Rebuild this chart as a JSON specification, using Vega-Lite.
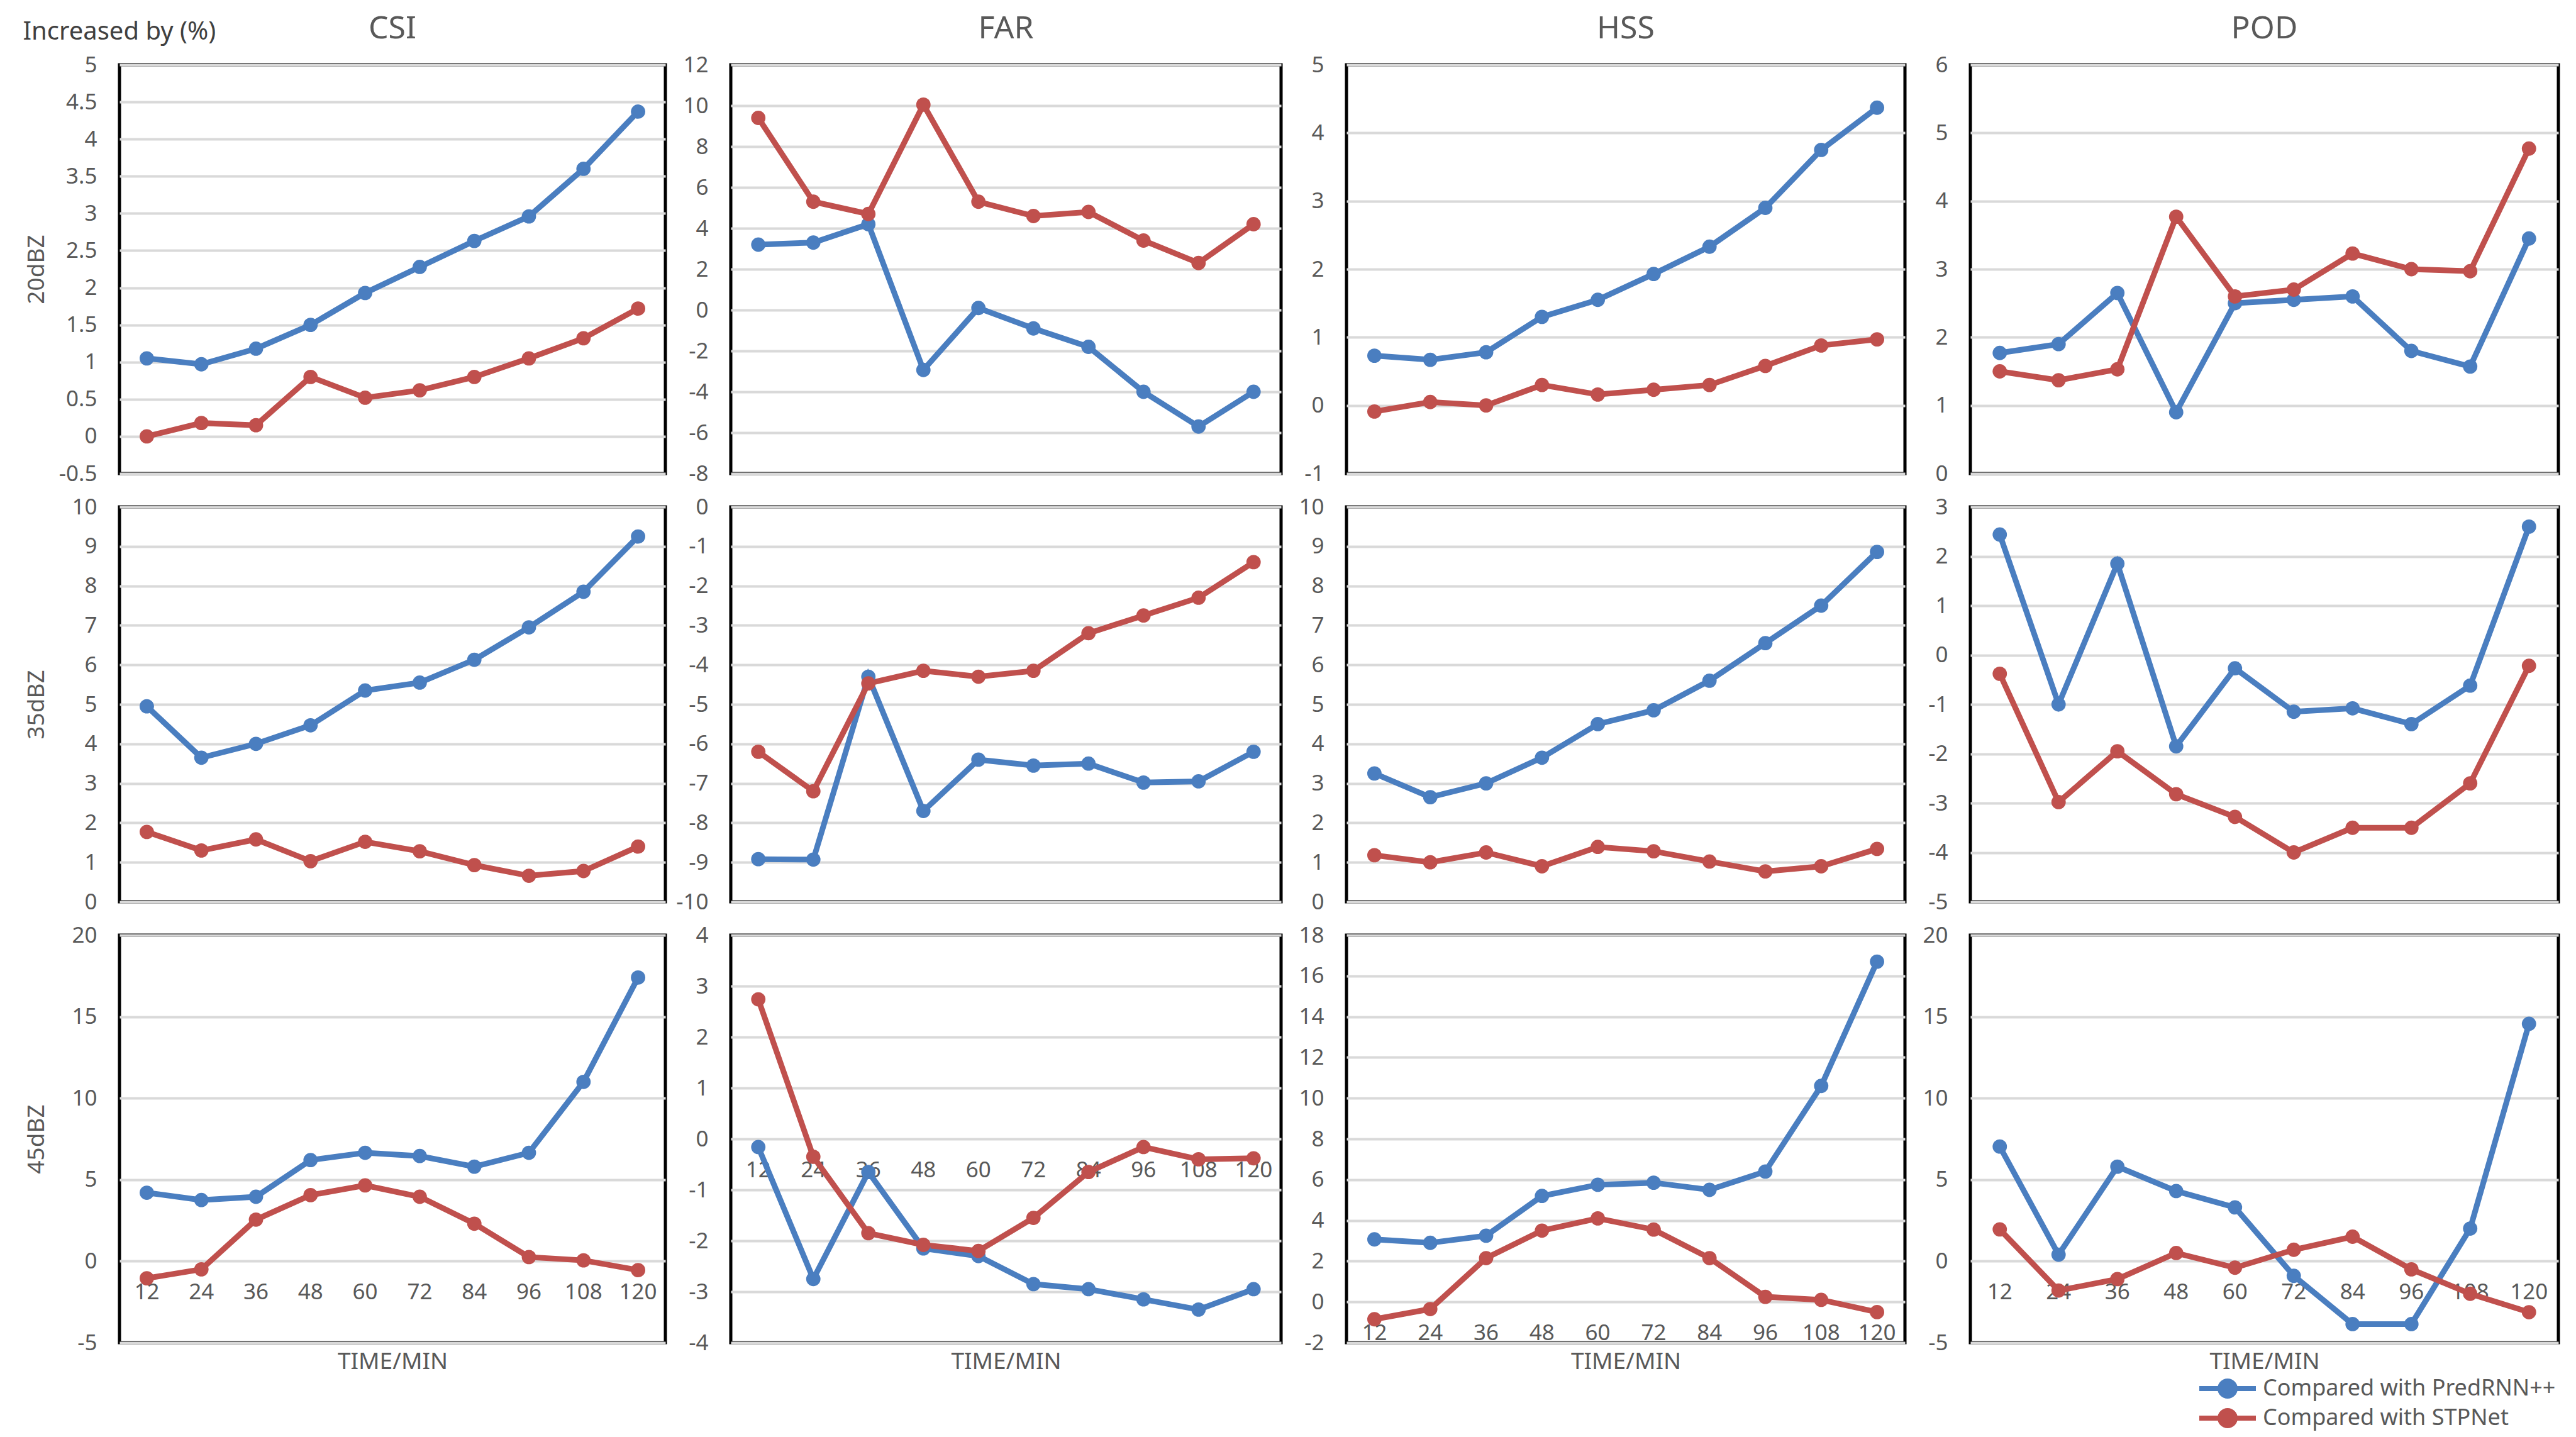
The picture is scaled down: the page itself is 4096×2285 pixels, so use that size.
{
  "$schema": "https://vega.github.io/schema/vega-lite/v6.json",
  "background": "white",
  "padding": {"left": 36, "top": 18, "right": 5, "bottom": 5},
  "title": {"text": "Increased by (%)", "anchor": "start", "frame": "bounds", "offset": -52, "fontSize": 40, "fontWeight": "normal", "color": "#404040", "font": "Noto Sans"},
  "datasets": {
    "d": [
      {"m":"CSI","d":20,"s":"PredRNN++","t":12,"v":1.05},{"m":"CSI","d":20,"s":"PredRNN++","t":24,"v":0.97},{"m":"CSI","d":20,"s":"PredRNN++","t":36,"v":1.18},{"m":"CSI","d":20,"s":"PredRNN++","t":48,"v":1.5},{"m":"CSI","d":20,"s":"PredRNN++","t":60,"v":1.93},{"m":"CSI","d":20,"s":"PredRNN++","t":72,"v":2.28},{"m":"CSI","d":20,"s":"PredRNN++","t":84,"v":2.63},{"m":"CSI","d":20,"s":"PredRNN++","t":96,"v":2.96},{"m":"CSI","d":20,"s":"PredRNN++","t":108,"v":3.6},{"m":"CSI","d":20,"s":"PredRNN++","t":120,"v":4.37},
      {"m":"CSI","d":20,"s":"STPNet","t":12,"v":0.0},{"m":"CSI","d":20,"s":"STPNet","t":24,"v":0.18},{"m":"CSI","d":20,"s":"STPNet","t":36,"v":0.15},{"m":"CSI","d":20,"s":"STPNet","t":48,"v":0.8},{"m":"CSI","d":20,"s":"STPNet","t":60,"v":0.52},{"m":"CSI","d":20,"s":"STPNet","t":72,"v":0.62},{"m":"CSI","d":20,"s":"STPNet","t":84,"v":0.8},{"m":"CSI","d":20,"s":"STPNet","t":96,"v":1.05},{"m":"CSI","d":20,"s":"STPNet","t":108,"v":1.32},{"m":"CSI","d":20,"s":"STPNet","t":120,"v":1.72},
      {"m":"FAR","d":20,"s":"PredRNN++","t":12,"v":3.2},{"m":"FAR","d":20,"s":"PredRNN++","t":24,"v":3.3},{"m":"FAR","d":20,"s":"PredRNN++","t":36,"v":4.2},{"m":"FAR","d":20,"s":"PredRNN++","t":48,"v":-2.93},{"m":"FAR","d":20,"s":"PredRNN++","t":60,"v":0.1},{"m":"FAR","d":20,"s":"PredRNN++","t":72,"v":-0.9},{"m":"FAR","d":20,"s":"PredRNN++","t":84,"v":-1.8},{"m":"FAR","d":20,"s":"PredRNN++","t":96,"v":-4.0},{"m":"FAR","d":20,"s":"PredRNN++","t":108,"v":-5.7},{"m":"FAR","d":20,"s":"PredRNN++","t":120,"v":-4.0},
      {"m":"FAR","d":20,"s":"STPNet","t":12,"v":9.4},{"m":"FAR","d":20,"s":"STPNet","t":24,"v":5.3},{"m":"FAR","d":20,"s":"STPNet","t":36,"v":4.7},{"m":"FAR","d":20,"s":"STPNet","t":48,"v":10.05},{"m":"FAR","d":20,"s":"STPNet","t":60,"v":5.3},{"m":"FAR","d":20,"s":"STPNet","t":72,"v":4.6},{"m":"FAR","d":20,"s":"STPNet","t":84,"v":4.8},{"m":"FAR","d":20,"s":"STPNet","t":96,"v":3.4},{"m":"FAR","d":20,"s":"STPNet","t":108,"v":2.3},{"m":"FAR","d":20,"s":"STPNet","t":120,"v":4.2},
      {"m":"HSS","d":20,"s":"PredRNN++","t":12,"v":0.73},{"m":"HSS","d":20,"s":"PredRNN++","t":24,"v":0.67},{"m":"HSS","d":20,"s":"PredRNN++","t":36,"v":0.78},{"m":"HSS","d":20,"s":"PredRNN++","t":48,"v":1.3},{"m":"HSS","d":20,"s":"PredRNN++","t":60,"v":1.55},{"m":"HSS","d":20,"s":"PredRNN++","t":72,"v":1.93},{"m":"HSS","d":20,"s":"PredRNN++","t":84,"v":2.33},{"m":"HSS","d":20,"s":"PredRNN++","t":96,"v":2.9},{"m":"HSS","d":20,"s":"PredRNN++","t":108,"v":3.75},{"m":"HSS","d":20,"s":"PredRNN++","t":120,"v":4.37},
      {"m":"HSS","d":20,"s":"STPNet","t":12,"v":-0.09},{"m":"HSS","d":20,"s":"STPNet","t":24,"v":0.05},{"m":"HSS","d":20,"s":"STPNet","t":36,"v":0.0},{"m":"HSS","d":20,"s":"STPNet","t":48,"v":0.3},{"m":"HSS","d":20,"s":"STPNet","t":60,"v":0.16},{"m":"HSS","d":20,"s":"STPNet","t":72,"v":0.23},{"m":"HSS","d":20,"s":"STPNet","t":84,"v":0.3},{"m":"HSS","d":20,"s":"STPNet","t":96,"v":0.58},{"m":"HSS","d":20,"s":"STPNet","t":108,"v":0.88},{"m":"HSS","d":20,"s":"STPNet","t":120,"v":0.97},
      {"m":"POD","d":20,"s":"PredRNN++","t":12,"v":1.77},{"m":"POD","d":20,"s":"PredRNN++","t":24,"v":1.9},{"m":"POD","d":20,"s":"PredRNN++","t":36,"v":2.65},{"m":"POD","d":20,"s":"PredRNN++","t":48,"v":0.9},{"m":"POD","d":20,"s":"PredRNN++","t":60,"v":2.5},{"m":"POD","d":20,"s":"PredRNN++","t":72,"v":2.55},{"m":"POD","d":20,"s":"PredRNN++","t":84,"v":2.6},{"m":"POD","d":20,"s":"PredRNN++","t":96,"v":1.8},{"m":"POD","d":20,"s":"PredRNN++","t":108,"v":1.57},{"m":"POD","d":20,"s":"PredRNN++","t":120,"v":3.45},
      {"m":"POD","d":20,"s":"STPNet","t":12,"v":1.5},{"m":"POD","d":20,"s":"STPNet","t":24,"v":1.37},{"m":"POD","d":20,"s":"STPNet","t":36,"v":1.53},{"m":"POD","d":20,"s":"STPNet","t":48,"v":3.77},{"m":"POD","d":20,"s":"STPNet","t":60,"v":2.6},{"m":"POD","d":20,"s":"STPNet","t":72,"v":2.7},{"m":"POD","d":20,"s":"STPNet","t":84,"v":3.23},{"m":"POD","d":20,"s":"STPNet","t":96,"v":3.0},{"m":"POD","d":20,"s":"STPNet","t":108,"v":2.97},{"m":"POD","d":20,"s":"STPNet","t":120,"v":4.77},
      {"m":"CSI","d":35,"s":"PredRNN++","t":12,"v":4.95},{"m":"CSI","d":35,"s":"PredRNN++","t":24,"v":3.65},{"m":"CSI","d":35,"s":"PredRNN++","t":36,"v":4.0},{"m":"CSI","d":35,"s":"PredRNN++","t":48,"v":4.47},{"m":"CSI","d":35,"s":"PredRNN++","t":60,"v":5.35},{"m":"CSI","d":35,"s":"PredRNN++","t":72,"v":5.55},{"m":"CSI","d":35,"s":"PredRNN++","t":84,"v":6.13},{"m":"CSI","d":35,"s":"PredRNN++","t":96,"v":6.95},{"m":"CSI","d":35,"s":"PredRNN++","t":108,"v":7.85},{"m":"CSI","d":35,"s":"PredRNN++","t":120,"v":9.25},
      {"m":"CSI","d":35,"s":"STPNet","t":12,"v":1.77},{"m":"CSI","d":35,"s":"STPNet","t":24,"v":1.3},{"m":"CSI","d":35,"s":"STPNet","t":36,"v":1.58},{"m":"CSI","d":35,"s":"STPNet","t":48,"v":1.03},{"m":"CSI","d":35,"s":"STPNet","t":60,"v":1.52},{"m":"CSI","d":35,"s":"STPNet","t":72,"v":1.28},{"m":"CSI","d":35,"s":"STPNet","t":84,"v":0.93},{"m":"CSI","d":35,"s":"STPNet","t":96,"v":0.66},{"m":"CSI","d":35,"s":"STPNet","t":108,"v":0.78},{"m":"CSI","d":35,"s":"STPNet","t":120,"v":1.4},
      {"m":"FAR","d":35,"s":"PredRNN++","t":12,"v":-8.92},{"m":"FAR","d":35,"s":"PredRNN++","t":24,"v":-8.93},{"m":"FAR","d":35,"s":"PredRNN++","t":36,"v":-4.3},{"m":"FAR","d":35,"s":"PredRNN++","t":48,"v":-7.7},{"m":"FAR","d":35,"s":"PredRNN++","t":60,"v":-6.4},{"m":"FAR","d":35,"s":"PredRNN++","t":72,"v":-6.55},{"m":"FAR","d":35,"s":"PredRNN++","t":84,"v":-6.5},{"m":"FAR","d":35,"s":"PredRNN++","t":96,"v":-6.98},{"m":"FAR","d":35,"s":"PredRNN++","t":108,"v":-6.95},{"m":"FAR","d":35,"s":"PredRNN++","t":120,"v":-6.2},
      {"m":"FAR","d":35,"s":"STPNet","t":12,"v":-6.2},{"m":"FAR","d":35,"s":"STPNet","t":24,"v":-7.2},{"m":"FAR","d":35,"s":"STPNet","t":36,"v":-4.47},{"m":"FAR","d":35,"s":"STPNet","t":48,"v":-4.15},{"m":"FAR","d":35,"s":"STPNet","t":60,"v":-4.3},{"m":"FAR","d":35,"s":"STPNet","t":72,"v":-4.15},{"m":"FAR","d":35,"s":"STPNet","t":84,"v":-3.2},{"m":"FAR","d":35,"s":"STPNet","t":96,"v":-2.75},{"m":"FAR","d":35,"s":"STPNet","t":108,"v":-2.3},{"m":"FAR","d":35,"s":"STPNet","t":120,"v":-1.4},
      {"m":"HSS","d":35,"s":"PredRNN++","t":12,"v":3.25},{"m":"HSS","d":35,"s":"PredRNN++","t":24,"v":2.65},{"m":"HSS","d":35,"s":"PredRNN++","t":36,"v":3.0},{"m":"HSS","d":35,"s":"PredRNN++","t":48,"v":3.65},{"m":"HSS","d":35,"s":"PredRNN++","t":60,"v":4.5},{"m":"HSS","d":35,"s":"PredRNN++","t":72,"v":4.85},{"m":"HSS","d":35,"s":"PredRNN++","t":84,"v":5.6},{"m":"HSS","d":35,"s":"PredRNN++","t":96,"v":6.55},{"m":"HSS","d":35,"s":"PredRNN++","t":108,"v":7.5},{"m":"HSS","d":35,"s":"PredRNN++","t":120,"v":8.86},
      {"m":"HSS","d":35,"s":"STPNet","t":12,"v":1.18},{"m":"HSS","d":35,"s":"STPNet","t":24,"v":1.0},{"m":"HSS","d":35,"s":"STPNet","t":36,"v":1.25},{"m":"HSS","d":35,"s":"STPNet","t":48,"v":0.9},{"m":"HSS","d":35,"s":"STPNet","t":60,"v":1.39},{"m":"HSS","d":35,"s":"STPNet","t":72,"v":1.28},{"m":"HSS","d":35,"s":"STPNet","t":84,"v":1.02},{"m":"HSS","d":35,"s":"STPNet","t":96,"v":0.77},{"m":"HSS","d":35,"s":"STPNet","t":108,"v":0.9},{"m":"HSS","d":35,"s":"STPNet","t":120,"v":1.34},
      {"m":"POD","d":35,"s":"PredRNN++","t":12,"v":2.44},{"m":"POD","d":35,"s":"PredRNN++","t":24,"v":-1.0},{"m":"POD","d":35,"s":"PredRNN++","t":36,"v":1.85},{"m":"POD","d":35,"s":"PredRNN++","t":48,"v":-1.85},{"m":"POD","d":35,"s":"PredRNN++","t":60,"v":-0.27},{"m":"POD","d":35,"s":"PredRNN++","t":72,"v":-1.15},{"m":"POD","d":35,"s":"PredRNN++","t":84,"v":-1.08},{"m":"POD","d":35,"s":"PredRNN++","t":96,"v":-1.4},{"m":"POD","d":35,"s":"PredRNN++","t":108,"v":-0.62},{"m":"POD","d":35,"s":"PredRNN++","t":120,"v":2.6},
      {"m":"POD","d":35,"s":"STPNet","t":12,"v":-0.38},{"m":"POD","d":35,"s":"STPNet","t":24,"v":-2.98},{"m":"POD","d":35,"s":"STPNet","t":36,"v":-1.95},{"m":"POD","d":35,"s":"STPNet","t":48,"v":-2.82},{"m":"POD","d":35,"s":"STPNet","t":60,"v":-3.28},{"m":"POD","d":35,"s":"STPNet","t":72,"v":-4.0},{"m":"POD","d":35,"s":"STPNet","t":84,"v":-3.5},{"m":"POD","d":35,"s":"STPNet","t":96,"v":-3.5},{"m":"POD","d":35,"s":"STPNet","t":108,"v":-2.6},{"m":"POD","d":35,"s":"STPNet","t":120,"v":-0.22},
      {"m":"CSI","d":45,"s":"PredRNN++","t":12,"v":4.2},{"m":"CSI","d":45,"s":"PredRNN++","t":24,"v":3.75},{"m":"CSI","d":45,"s":"PredRNN++","t":36,"v":3.95},{"m":"CSI","d":45,"s":"PredRNN++","t":48,"v":6.2},{"m":"CSI","d":45,"s":"PredRNN++","t":60,"v":6.65},{"m":"CSI","d":45,"s":"PredRNN++","t":72,"v":6.45},{"m":"CSI","d":45,"s":"PredRNN++","t":84,"v":5.8},{"m":"CSI","d":45,"s":"PredRNN++","t":96,"v":6.65},{"m":"CSI","d":45,"s":"PredRNN++","t":108,"v":11.0},{"m":"CSI","d":45,"s":"PredRNN++","t":120,"v":17.4},
      {"m":"CSI","d":45,"s":"STPNet","t":12,"v":-1.05},{"m":"CSI","d":45,"s":"STPNet","t":24,"v":-0.5},{"m":"CSI","d":45,"s":"STPNet","t":36,"v":2.55},{"m":"CSI","d":45,"s":"STPNet","t":48,"v":4.05},{"m":"CSI","d":45,"s":"STPNet","t":60,"v":4.65},{"m":"CSI","d":45,"s":"STPNet","t":72,"v":3.95},{"m":"CSI","d":45,"s":"STPNet","t":84,"v":2.3},{"m":"CSI","d":45,"s":"STPNet","t":96,"v":0.25},{"m":"CSI","d":45,"s":"STPNet","t":108,"v":0.05},{"m":"CSI","d":45,"s":"STPNet","t":120,"v":-0.55},
      {"m":"FAR","d":45,"s":"PredRNN++","t":12,"v":-0.16},{"m":"FAR","d":45,"s":"PredRNN++","t":24,"v":-2.75},{"m":"FAR","d":45,"s":"PredRNN++","t":36,"v":-0.65},{"m":"FAR","d":45,"s":"PredRNN++","t":48,"v":-2.15},{"m":"FAR","d":45,"s":"PredRNN++","t":60,"v":-2.3},{"m":"FAR","d":45,"s":"PredRNN++","t":72,"v":-2.85},{"m":"FAR","d":45,"s":"PredRNN++","t":84,"v":-2.95},{"m":"FAR","d":45,"s":"PredRNN++","t":96,"v":-3.15},{"m":"FAR","d":45,"s":"PredRNN++","t":108,"v":-3.35},{"m":"FAR","d":45,"s":"PredRNN++","t":120,"v":-2.95},
      {"m":"FAR","d":45,"s":"STPNet","t":12,"v":2.74},{"m":"FAR","d":45,"s":"STPNet","t":24,"v":-0.35},{"m":"FAR","d":45,"s":"STPNet","t":36,"v":-1.85},{"m":"FAR","d":45,"s":"STPNet","t":48,"v":-2.08},{"m":"FAR","d":45,"s":"STPNet","t":60,"v":-2.2},{"m":"FAR","d":45,"s":"STPNet","t":72,"v":-1.55},{"m":"FAR","d":45,"s":"STPNet","t":84,"v":-0.65},{"m":"FAR","d":45,"s":"STPNet","t":96,"v":-0.16},{"m":"FAR","d":45,"s":"STPNet","t":108,"v":-0.4},{"m":"FAR","d":45,"s":"STPNet","t":120,"v":-0.38},
      {"m":"HSS","d":45,"s":"PredRNN++","t":12,"v":3.07},{"m":"HSS","d":45,"s":"PredRNN++","t":24,"v":2.9},{"m":"HSS","d":45,"s":"PredRNN++","t":36,"v":3.25},{"m":"HSS","d":45,"s":"PredRNN++","t":48,"v":5.2},{"m":"HSS","d":45,"s":"PredRNN++","t":60,"v":5.75},{"m":"HSS","d":45,"s":"PredRNN++","t":72,"v":5.85},{"m":"HSS","d":45,"s":"PredRNN++","t":84,"v":5.5},{"m":"HSS","d":45,"s":"PredRNN++","t":96,"v":6.4},{"m":"HSS","d":45,"s":"PredRNN++","t":108,"v":10.6},{"m":"HSS","d":45,"s":"PredRNN++","t":120,"v":16.7},
      {"m":"HSS","d":45,"s":"STPNet","t":12,"v":-0.85},{"m":"HSS","d":45,"s":"STPNet","t":24,"v":-0.35},{"m":"HSS","d":45,"s":"STPNet","t":36,"v":2.15},{"m":"HSS","d":45,"s":"STPNet","t":48,"v":3.5},{"m":"HSS","d":45,"s":"STPNet","t":60,"v":4.1},{"m":"HSS","d":45,"s":"STPNet","t":72,"v":3.55},{"m":"HSS","d":45,"s":"STPNet","t":84,"v":2.15},{"m":"HSS","d":45,"s":"STPNet","t":96,"v":0.25},{"m":"HSS","d":45,"s":"STPNet","t":108,"v":0.1},{"m":"HSS","d":45,"s":"STPNet","t":120,"v":-0.5},
      {"m":"POD","d":45,"s":"PredRNN++","t":12,"v":7.03},{"m":"POD","d":45,"s":"PredRNN++","t":24,"v":0.4},{"m":"POD","d":45,"s":"PredRNN++","t":36,"v":5.8},{"m":"POD","d":45,"s":"PredRNN++","t":48,"v":4.3},{"m":"POD","d":45,"s":"PredRNN++","t":60,"v":3.3},{"m":"POD","d":45,"s":"PredRNN++","t":72,"v":-0.9},{"m":"POD","d":45,"s":"PredRNN++","t":84,"v":-3.86},{"m":"POD","d":45,"s":"PredRNN++","t":96,"v":-3.86},{"m":"POD","d":45,"s":"PredRNN++","t":108,"v":2.0},{"m":"POD","d":45,"s":"PredRNN++","t":120,"v":14.56},
      {"m":"POD","d":45,"s":"STPNet","t":12,"v":1.95},{"m":"POD","d":45,"s":"STPNet","t":24,"v":-1.8},{"m":"POD","d":45,"s":"STPNet","t":36,"v":-1.1},{"m":"POD","d":45,"s":"STPNet","t":48,"v":0.5},{"m":"POD","d":45,"s":"STPNet","t":60,"v":-0.4},{"m":"POD","d":45,"s":"STPNet","t":72,"v":0.7},{"m":"POD","d":45,"s":"STPNet","t":84,"v":1.5},{"m":"POD","d":45,"s":"STPNet","t":96,"v":-0.5},{"m":"POD","d":45,"s":"STPNet","t":108,"v":-2.0},{"m":"POD","d":45,"s":"STPNet","t":120,"v":-3.13}
    ]
  },
  "data": {"name": "d"},
  "columns": 4,
  "spacing": {"row": 53, "column": 104},
  "bounds": "flush",
  "align": "each",
  "concat": [
    {
      "width": 868, "height": 650, "title": "CSI",
      "transform": [{"filter": "datum.m == 'CSI' && datum.d == 20"}],
      "encoding": {
        "x": {"field": "t", "type": "ordinal", "sort": [12,24,36,48,60,72,84,96,108,120], "axis": null},
        "y": {"field": "v", "type": "quantitative", "scale": {"domain": [-0.5, 5], "nice": false, "zero": false}, "axis": {"values": [-0.5,0,0.5,1,1.5,2,2.5,3,3.5,4,4.5,5], "labelExpr": "toString(datum.value)", "title": "20dBZ", "minExtent": 97, "maxExtent": 97, "titlePadding": 16}},
        "color": {"field": "s", "type": "nominal", "scale": {"domain": ["PredRNN++", "STPNet"], "range": ["#4A7EC0", "#C0504D"]}, "title": null, "legend": {"labelExpr": "'Compared with ' + datum.label", "encode": {"symbols": {"update": {"fill": {"scale": "color", "field": "value"}, "stroke": {"scale": "color", "field": "value"}, "opacity": {"value": 1}}}}}}
      },
      "layer": [
        {"mark": {"type": "line", "strokeWidth": 9}},
        {"mark": {"type": "point", "filled": true, "size": 520, "opacity": 1}}
      ]
    },
    {
      "width": 875, "height": 650, "title": "FAR",
      "transform": [{"filter": "datum.m == 'FAR' && datum.d == 20"}],
      "encoding": {
        "x": {"field": "t", "type": "ordinal", "sort": [12,24,36,48,60,72,84,96,108,120], "axis": null},
        "y": {"field": "v", "type": "quantitative", "scale": {"domain": [-8, 12], "nice": false, "zero": false}, "axis": {"values": [-8,-6,-4,-2,0,2,4,6,8,10,12], "labelExpr": "toString(datum.value)", "title": null}},
        "color": {"field": "s", "type": "nominal", "scale": {"domain": ["PredRNN++", "STPNet"], "range": ["#4A7EC0", "#C0504D"]}, "title": null, "legend": {"labelExpr": "'Compared with ' + datum.label", "encode": {"symbols": {"update": {"fill": {"scale": "color", "field": "value"}, "stroke": {"scale": "color", "field": "value"}, "opacity": {"value": 1}}}}}}
      },
      "layer": [
        {"mark": {"type": "line", "strokeWidth": 9}},
        {"mark": {"type": "point", "filled": true, "size": 520, "opacity": 1}}
      ]
    },
    {
      "width": 888, "height": 650, "title": "HSS",
      "transform": [{"filter": "datum.m == 'HSS' && datum.d == 20"}],
      "encoding": {
        "x": {"field": "t", "type": "ordinal", "sort": [12,24,36,48,60,72,84,96,108,120], "axis": null},
        "y": {"field": "v", "type": "quantitative", "scale": {"domain": [-1, 5], "nice": false, "zero": false}, "axis": {"values": [-1,0,1,2,3,4,5], "labelExpr": "toString(datum.value)", "title": null}},
        "color": {"field": "s", "type": "nominal", "scale": {"domain": ["PredRNN++", "STPNet"], "range": ["#4A7EC0", "#C0504D"]}, "title": null, "legend": {"labelExpr": "'Compared with ' + datum.label", "encode": {"symbols": {"update": {"fill": {"scale": "color", "field": "value"}, "stroke": {"scale": "color", "field": "value"}, "opacity": {"value": 1}}}}}}
      },
      "layer": [
        {"mark": {"type": "line", "strokeWidth": 9}},
        {"mark": {"type": "point", "filled": true, "size": 520, "opacity": 1}}
      ]
    },
    {
      "width": 935, "height": 650, "title": "POD",
      "transform": [{"filter": "datum.m == 'POD' && datum.d == 20"}],
      "encoding": {
        "x": {"field": "t", "type": "ordinal", "sort": [12,24,36,48,60,72,84,96,108,120], "axis": null},
        "y": {"field": "v", "type": "quantitative", "scale": {"domain": [0, 6], "nice": false, "zero": false}, "axis": {"values": [0,1,2,3,4,5,6], "labelExpr": "toString(datum.value)", "title": null}},
        "color": {"field": "s", "type": "nominal", "scale": {"domain": ["PredRNN++", "STPNet"], "range": ["#4A7EC0", "#C0504D"]}, "title": null, "legend": {"labelExpr": "'Compared with ' + datum.label", "encode": {"symbols": {"update": {"fill": {"scale": "color", "field": "value"}, "stroke": {"scale": "color", "field": "value"}, "opacity": {"value": 1}}}}}}
      },
      "layer": [
        {"mark": {"type": "line", "strokeWidth": 9}},
        {"mark": {"type": "point", "filled": true, "size": 520, "opacity": 1}}
      ]
    },
    {
      "width": 868, "height": 628,
      "transform": [{"filter": "datum.m == 'CSI' && datum.d == 35"}],
      "encoding": {
        "x": {"field": "t", "type": "ordinal", "sort": [12,24,36,48,60,72,84,96,108,120], "axis": null},
        "y": {"field": "v", "type": "quantitative", "scale": {"domain": [0, 10], "nice": false, "zero": false}, "axis": {"values": [0,1,2,3,4,5,6,7,8,9,10], "labelExpr": "toString(datum.value)", "title": "35dBZ", "minExtent": 97, "maxExtent": 97, "titlePadding": 16}},
        "color": {"field": "s", "type": "nominal", "scale": {"domain": ["PredRNN++", "STPNet"], "range": ["#4A7EC0", "#C0504D"]}, "title": null, "legend": {"labelExpr": "'Compared with ' + datum.label", "encode": {"symbols": {"update": {"fill": {"scale": "color", "field": "value"}, "stroke": {"scale": "color", "field": "value"}, "opacity": {"value": 1}}}}}}
      },
      "layer": [
        {"mark": {"type": "line", "strokeWidth": 9}},
        {"mark": {"type": "point", "filled": true, "size": 520, "opacity": 1}}
      ]
    },
    {
      "width": 875, "height": 628,
      "transform": [{"filter": "datum.m == 'FAR' && datum.d == 35"}],
      "encoding": {
        "x": {"field": "t", "type": "ordinal", "sort": [12,24,36,48,60,72,84,96,108,120], "axis": null},
        "y": {"field": "v", "type": "quantitative", "scale": {"domain": [-10, 0], "nice": false, "zero": false}, "axis": {"values": [-10,-9,-8,-7,-6,-5,-4,-3,-2,-1,0], "labelExpr": "toString(datum.value)", "title": null}},
        "color": {"field": "s", "type": "nominal", "scale": {"domain": ["PredRNN++", "STPNet"], "range": ["#4A7EC0", "#C0504D"]}, "title": null, "legend": {"labelExpr": "'Compared with ' + datum.label", "encode": {"symbols": {"update": {"fill": {"scale": "color", "field": "value"}, "stroke": {"scale": "color", "field": "value"}, "opacity": {"value": 1}}}}}}
      },
      "layer": [
        {"mark": {"type": "line", "strokeWidth": 9}},
        {"mark": {"type": "point", "filled": true, "size": 520, "opacity": 1}}
      ]
    },
    {
      "width": 888, "height": 628,
      "transform": [{"filter": "datum.m == 'HSS' && datum.d == 35"}],
      "encoding": {
        "x": {"field": "t", "type": "ordinal", "sort": [12,24,36,48,60,72,84,96,108,120], "axis": null},
        "y": {"field": "v", "type": "quantitative", "scale": {"domain": [0, 10], "nice": false, "zero": false}, "axis": {"values": [0,1,2,3,4,5,6,7,8,9,10], "labelExpr": "toString(datum.value)", "title": null}},
        "color": {"field": "s", "type": "nominal", "scale": {"domain": ["PredRNN++", "STPNet"], "range": ["#4A7EC0", "#C0504D"]}, "title": null, "legend": {"labelExpr": "'Compared with ' + datum.label", "encode": {"symbols": {"update": {"fill": {"scale": "color", "field": "value"}, "stroke": {"scale": "color", "field": "value"}, "opacity": {"value": 1}}}}}}
      },
      "layer": [
        {"mark": {"type": "line", "strokeWidth": 9}},
        {"mark": {"type": "point", "filled": true, "size": 520, "opacity": 1}}
      ]
    },
    {
      "width": 935, "height": 628,
      "transform": [{"filter": "datum.m == 'POD' && datum.d == 35"}],
      "encoding": {
        "x": {"field": "t", "type": "ordinal", "sort": [12,24,36,48,60,72,84,96,108,120], "axis": null},
        "y": {"field": "v", "type": "quantitative", "scale": {"domain": [-5, 3], "nice": false, "zero": false}, "axis": {"values": [-5,-4,-3,-2,-1,0,1,2,3], "labelExpr": "toString(datum.value)", "title": null}},
        "color": {"field": "s", "type": "nominal", "scale": {"domain": ["PredRNN++", "STPNet"], "range": ["#4A7EC0", "#C0504D"]}, "title": null, "legend": {"labelExpr": "'Compared with ' + datum.label", "encode": {"symbols": {"update": {"fill": {"scale": "color", "field": "value"}, "stroke": {"scale": "color", "field": "value"}, "opacity": {"value": 1}}}}}}
      },
      "layer": [
        {"mark": {"type": "line", "strokeWidth": 9}},
        {"mark": {"type": "point", "filled": true, "size": 520, "opacity": 1}}
      ]
    },
    {
      "width": 868, "height": 648,
      "transform": [{"filter": "datum.m == 'CSI' && datum.d == 45"}],
      "encoding": {
        "x": {"field": "t", "type": "ordinal", "sort": [12,24,36,48,60,72,84,96,108,120], "axis": {"labels": false, "grid": false, "title": "TIME/MIN", "titlePadding": 12, "minExtent": 0, "maxExtent": 0}},
        "y": {"field": "v", "type": "quantitative", "scale": {"domain": [-5, 20], "nice": false, "zero": false}, "axis": {"values": [-5,0,5,10,15,20], "labelExpr": "toString(datum.value)", "title": "45dBZ", "minExtent": 97, "maxExtent": 97, "titlePadding": 16}}
      },
      "layer": [
        {"transform": [{"filter": "datum.s == 'PredRNN++'"}], "mark": {"type": "text", "dy": 50, "fontSize": 35, "font": "Noto Sans", "color": "#595959"}, "encoding": {"y": {"datum": 0}, "text": {"field": "t", "type": "ordinal"}}},
        {"mark": {"type": "line", "strokeWidth": 9}, "encoding": {"color": {"field": "s", "type": "nominal", "scale": {"domain": ["PredRNN++", "STPNet"], "range": ["#4A7EC0", "#C0504D"]}, "title": null, "legend": {"labelExpr": "'Compared with ' + datum.label", "encode": {"symbols": {"update": {"fill": {"scale": "color", "field": "value"}, "stroke": {"scale": "color", "field": "value"}, "opacity": {"value": 1}}}}}}}},
        {"mark": {"type": "point", "filled": true, "size": 520, "opacity": 1}, "encoding": {"color": {"field": "s", "type": "nominal", "scale": {"domain": ["PredRNN++", "STPNet"], "range": ["#4A7EC0", "#C0504D"]}, "title": null, "legend": {"labelExpr": "'Compared with ' + datum.label", "encode": {"symbols": {"update": {"fill": {"scale": "color", "field": "value"}, "stroke": {"scale": "color", "field": "value"}, "opacity": {"value": 1}}}}}}}}
      ]
    },
    {
      "width": 875, "height": 648,
      "transform": [{"filter": "datum.m == 'FAR' && datum.d == 45"}],
      "encoding": {
        "x": {"field": "t", "type": "ordinal", "sort": [12,24,36,48,60,72,84,96,108,120], "axis": {"labels": false, "grid": false, "title": "TIME/MIN", "titlePadding": 12, "minExtent": 0, "maxExtent": 0}},
        "y": {"field": "v", "type": "quantitative", "scale": {"domain": [-4, 4], "nice": false, "zero": false}, "axis": {"values": [-4,-3,-2,-1,0,1,2,3,4], "labelExpr": "toString(datum.value)", "title": null}}
      },
      "layer": [
        {"transform": [{"filter": "datum.s == 'PredRNN++'"}], "mark": {"type": "text", "dy": 50, "fontSize": 35, "font": "Noto Sans", "color": "#595959"}, "encoding": {"y": {"datum": 0}, "text": {"field": "t", "type": "ordinal"}}},
        {"mark": {"type": "line", "strokeWidth": 9}, "encoding": {"color": {"field": "s", "type": "nominal", "scale": {"domain": ["PredRNN++", "STPNet"], "range": ["#4A7EC0", "#C0504D"]}, "title": null, "legend": {"labelExpr": "'Compared with ' + datum.label", "encode": {"symbols": {"update": {"fill": {"scale": "color", "field": "value"}, "stroke": {"scale": "color", "field": "value"}, "opacity": {"value": 1}}}}}}}},
        {"mark": {"type": "point", "filled": true, "size": 520, "opacity": 1}, "encoding": {"color": {"field": "s", "type": "nominal", "scale": {"domain": ["PredRNN++", "STPNet"], "range": ["#4A7EC0", "#C0504D"]}, "title": null, "legend": {"labelExpr": "'Compared with ' + datum.label", "encode": {"symbols": {"update": {"fill": {"scale": "color", "field": "value"}, "stroke": {"scale": "color", "field": "value"}, "opacity": {"value": 1}}}}}}}}
      ]
    },
    {
      "width": 888, "height": 648,
      "transform": [{"filter": "datum.m == 'HSS' && datum.d == 45"}],
      "encoding": {
        "x": {"field": "t", "type": "ordinal", "sort": [12,24,36,48,60,72,84,96,108,120], "axis": {"labels": false, "grid": false, "title": "TIME/MIN", "titlePadding": 12, "minExtent": 0, "maxExtent": 0}},
        "y": {"field": "v", "type": "quantitative", "scale": {"domain": [-2, 18], "nice": false, "zero": false}, "axis": {"values": [-2,0,2,4,6,8,10,12,14,16,18], "labelExpr": "toString(datum.value)", "title": null}}
      },
      "layer": [
        {"transform": [{"filter": "datum.s == 'PredRNN++'"}], "mark": {"type": "text", "dy": 50, "fontSize": 35, "font": "Noto Sans", "color": "#595959"}, "encoding": {"y": {"datum": 0}, "text": {"field": "t", "type": "ordinal"}}},
        {"mark": {"type": "line", "strokeWidth": 9}, "encoding": {"color": {"field": "s", "type": "nominal", "scale": {"domain": ["PredRNN++", "STPNet"], "range": ["#4A7EC0", "#C0504D"]}, "title": null, "legend": {"labelExpr": "'Compared with ' + datum.label", "encode": {"symbols": {"update": {"fill": {"scale": "color", "field": "value"}, "stroke": {"scale": "color", "field": "value"}, "opacity": {"value": 1}}}}}}}},
        {"mark": {"type": "point", "filled": true, "size": 520, "opacity": 1}, "encoding": {"color": {"field": "s", "type": "nominal", "scale": {"domain": ["PredRNN++", "STPNet"], "range": ["#4A7EC0", "#C0504D"]}, "title": null, "legend": {"labelExpr": "'Compared with ' + datum.label", "encode": {"symbols": {"update": {"fill": {"scale": "color", "field": "value"}, "stroke": {"scale": "color", "field": "value"}, "opacity": {"value": 1}}}}}}}}
      ]
    },
    {
      "width": 935, "height": 648,
      "transform": [{"filter": "datum.m == 'POD' && datum.d == 45"}],
      "encoding": {
        "x": {"field": "t", "type": "ordinal", "sort": [12,24,36,48,60,72,84,96,108,120], "axis": {"labels": false, "grid": false, "title": "TIME/MIN", "titlePadding": 12, "minExtent": 0, "maxExtent": 0}},
        "y": {"field": "v", "type": "quantitative", "scale": {"domain": [-5, 20], "nice": false, "zero": false}, "axis": {"values": [-5,0,5,10,15,20], "labelExpr": "toString(datum.value)", "title": null}}
      },
      "layer": [
        {"transform": [{"filter": "datum.s == 'PredRNN++'"}], "mark": {"type": "text", "dy": 50, "fontSize": 35, "font": "Noto Sans", "color": "#595959"}, "encoding": {"y": {"datum": 0}, "text": {"field": "t", "type": "ordinal"}}},
        {"mark": {"type": "line", "strokeWidth": 9}, "encoding": {"color": {"field": "s", "type": "nominal", "scale": {"domain": ["PredRNN++", "STPNet"], "range": ["#4A7EC0", "#C0504D"]}, "title": null, "legend": {"labelExpr": "'Compared with ' + datum.label", "encode": {"symbols": {"update": {"fill": {"scale": "color", "field": "value"}, "stroke": {"scale": "color", "field": "value"}, "opacity": {"value": 1}}}}}}}},
        {"mark": {"type": "point", "filled": true, "size": 520, "opacity": 1}, "encoding": {"color": {"field": "s", "type": "nominal", "scale": {"domain": ["PredRNN++", "STPNet"], "range": ["#4A7EC0", "#C0504D"]}, "title": null, "legend": {"labelExpr": "'Compared with ' + datum.label", "encode": {"symbols": {"update": {"fill": {"scale": "color", "field": "value"}, "stroke": {"scale": "color", "field": "value"}, "opacity": {"value": 1}}}}}}}}
      ]
    }
  ],
  "config": {
    "font": "Noto Sans",
    "view": {"stroke": "#000000", "strokeWidth": 5},
    "axis": {"labelFont": "Noto Sans", "labelFontSize": 35, "labelColor": "#595959", "titleFont": "Noto Sans", "titleFontSize": 37, "titleColor": "#595959", "titleFontWeight": "normal", "ticks": false, "domain": false, "gridColor": "#D9D9D9", "gridWidth": 4, "labelPadding": 36},
    "title": {"fontSize": 50, "fontWeight": "normal", "color": "#595959", "font": "Noto Sans", "offset": 15},
    "legend": {"orient": "none", "legendX": 3333, "legendY": 2086, "symbolType": "M-3,0H3M-0.8,0A0.8,0.8,0,1,0,0.8,0A0.8,0.8,0,1,0,-0.8,0Z", "symbolSize": 900, "symbolStrokeWidth": 8, "labelFontSize": 36, "labelFont": "Noto Sans", "labelColor": "#595959", "labelOffset": 37, "rowPadding": -9, "labelLimit": 0, "padding": 0}
  }
}
